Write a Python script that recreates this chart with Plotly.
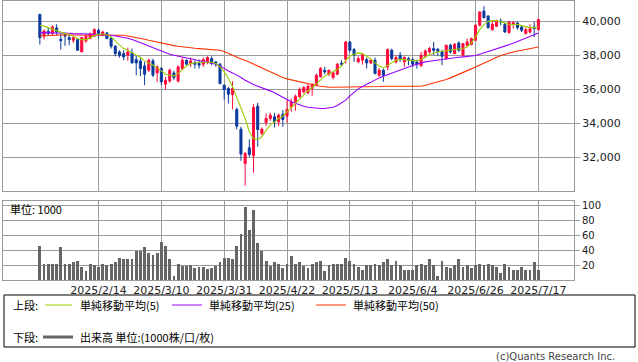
import plotly.graph_objects as go

# ---------------- data ----------------
date_labels = ["2025/2/14", "2025/3/10", "2025/3/31", "2025/4/22",
               "2025/5/13", "2025/6/4", "2025/6/26", "2025/7/17"]

open_ = [40411, 39137, 39411, 39274, 39607, 38941, 39235, 39039, 38882, 38921,
         38195, 38843, 38980, 39117, 39470, 39176, 39313, 39019, 38529, 38195,
         38097, 37999, 38137, 37744, 37666, 37372, 37117, 37666, 36960, 37215,
         36293, 36489, 36960, 36489, 37215, 37705, 37509, 37548, 37509, 37470,
         37607, 37803, 37607, 37470, 36234, 36038, 35685, 34803, 33646, 31626,
         32548, 32077, 34999, 33391, 34038, 34274, 34372, 34077, 34529, 34411,
         34960, 35254, 35548, 35842, 35784, 36038, 36234, 36725, 37117, 36882,
         36685, 36882, 37529, 37764, 38784, 38333, 37607, 37705, 37744, 37548,
         37705, 36823, 37117, 37313, 38294, 37607, 37999, 37607, 37803, 37744,
         37607, 37372, 37940, 38195, 38392, 38352, 38195, 37803, 38588, 38097,
         38725, 37999, 38588, 38627, 38882, 39764, 40607, 40313, 39509, 39705,
         40019, 39823, 39333, 39823, 39902, 39666, 39274, 39372, 39666, 39509]

high = [40411, 39509, 39627, 39764, 39823, 39274, 39333, 39274, 39078, 38960,
        39078, 39215, 39333, 39588, 39568, 39431, 39372, 39078, 38588, 38294,
        38294, 38450, 38392, 37999, 37901, 37607, 37803, 37803, 37411, 37313,
        36725, 37215, 37078, 37411, 37862, 37744, 37862, 37705, 37744, 37862,
        37940, 37940, 37666, 37548, 36293, 36136, 36470, 34921, 33783, 32313,
        33038, 35116, 35195, 33744, 34568, 34607, 34607, 34568, 34764, 35352,
        35450, 35685, 36097, 36176, 36293, 36332, 36921, 37313, 37313, 37156,
        37019, 37548, 37705, 38843, 38823, 38431, 37940, 38137, 37862, 37744,
        37862, 37254, 37215, 38392, 38392, 37999, 38195, 37940, 37901, 37862,
        37744, 38195, 38333, 38490, 38784, 38431, 38333, 38627, 38686, 38725,
        38823, 38725, 38980, 39039, 39823, 40588, 40882, 40353, 40058, 40098,
        40156, 39902, 40019, 39999, 39960, 39764, 39627, 39823, 39960, 40156]

low = [38627, 38921, 39176, 39176, 39176, 38333, 38548, 38588, 38725, 38294,
       38195, 38725, 38941, 39078, 38980, 39117, 38941, 38392, 37940, 37862,
       37705, 37666, 37509, 36823, 36764, 36234, 37019, 36725, 36430, 36234,
       35980, 36372, 36529, 36372, 37117, 37411, 37313, 37215, 37215, 37313,
       37470, 37411, 37313, 36293, 35391, 35155, 34803, 33626, 31783, 30312,
       32018, 31077, 32607, 33293, 33822, 34136, 33744, 33822, 33783, 34019,
       34666, 34725, 35509, 35743, 35705, 35607, 36176, 36685, 36882, 36764,
       36568, 36823, 37372, 37509, 38195, 37607, 37568, 37450, 37215, 37470,
       36882, 36725, 36430, 37117, 37705, 37509, 37607, 37313, 37411, 37313,
       37215, 37352, 37862, 38097, 37999, 37940, 37411, 37744, 38097, 38058,
       38195, 37940, 38490, 38588, 38843, 39705, 40156, 39568, 39431, 39666,
       39764, 39313, 39274, 39568, 39509, 39372, 39215, 39274, 39078, 39470]

close = [39039, 39431, 39274, 39666, 39372, 38862, 39117, 38921, 39039, 38294,
         39039, 39117, 39274, 39509, 39274, 39372, 38980, 38529, 38097, 37999,
         37901, 38195, 37548, 37548, 37215, 36882, 37705, 36823, 37313, 36430,
         36529, 37117, 36685, 37313, 37705, 37470, 37666, 37470, 37411, 37744,
         37862, 37509, 37509, 36332, 35980, 35705, 36038, 33822, 32175, 32214,
         32156, 34921, 33626, 33646, 34274, 34470, 34077, 34470, 34215, 34803,
         35254, 35588, 35980, 36097, 36176, 36293, 36823, 37215, 37019, 37117,
         36960, 37470, 37470, 38784, 38294, 37999, 37803, 38038, 37548, 37705,
         36921, 37117, 36823, 38333, 37803, 37862, 37744, 37862, 37705, 37470,
         37470, 37999, 38254, 38392, 38294, 38235, 37940, 38588, 38195, 38646,
         38294, 38686, 38784, 38980, 39764, 40549, 40215, 39627, 39823, 40019,
         39960, 39372, 39960, 39921, 39627, 39470, 39509, 39568, 39568, 40098]

ma5 = [39764, 39725, 39627, 39529, 39470, 39372, 39274, 39235, 39117, 38980,
       38921, 38921, 39019, 39156, 39235, 39254, 39235, 39078, 38843, 38588,
       38392, 38294, 38156, 37999, 37862, 37666, 37548, 37411, 37254, 37058,
       36882, 36823, 36784, 36921, 37156, 37372, 37509, 37568, 37587, 37587,
       37607, 37587, 37509, 37313, 37019, 36627, 36136, 35548, 34960, 34274,
       33489, 33097, 33038, 33195, 33587, 33881, 34077, 34274, 34411, 34666,
       34862, 35155, 35391, 35646, 35901, 36097, 36293, 36529, 36764, 36921,
       37039, 37156, 37352, 37705, 37940, 38058, 38137, 38097, 37940, 37784,
       37548, 37372, 37254, 37411, 37587, 37705, 37764, 37744, 37705, 37705,
       37666, 37744, 37901, 38038, 38137, 38215, 38254, 38274, 38313, 38333,
       38372, 38392, 38490, 38725, 39078, 39509, 39803, 39980, 40039, 40039,
       39980, 39902, 39823, 39803, 39823, 39745, 39666, 39627, 39627, 39666]

ma25 = [39333, 39333, 39333, 39333, 39313, 39313, 39313, 39294, 39274, 39274,
        39274, 39254, 39254, 39235, 39215, 39215, 39196, 39176, 39137, 39098,
        39058, 38999, 38921, 38843, 38764, 38646, 38548, 38450, 38333, 38215,
        38137, 38058, 37999, 37940, 37901, 37843, 37784, 37725, 37666, 37627,
        37587, 37548, 37470, 37372, 37215, 37078, 36960, 36842, 36685, 36529,
        36391, 36274, 36176, 36097, 36019, 35901, 35784, 35666, 35548, 35391,
        35254, 35156, 35078, 34999, 34940, 34901, 34881, 34862, 34862, 34881,
        34940, 35038, 35176, 35352, 35607, 35842, 36019, 36156, 36293, 36430,
        36568, 36666, 36764, 36862, 36960, 37039, 37137, 37235, 37313, 37392,
        37470, 37548, 37607, 37646, 37686, 37725, 37764, 37803, 37843, 37862,
        37882, 37901, 37921, 37940, 37980, 38058, 38137, 38215, 38294, 38352,
        38431, 38509, 38607, 38705, 38803, 38901, 38999, 39098, 39196, 39313]

ma50 = [39137, 39156, 39156, 39176, 39176, 39196, 39196, 39196, 39215, 39215,
        39215, 39215, 39215, 39215, 39215, 39215, 39215, 39215, 39196, 39196,
        39176, 39137, 39098, 39039, 38999, 38941, 38882, 38823, 38764, 38725,
        38666, 38627, 38568, 38529, 38490, 38450, 38431, 38411, 38392, 38372,
        38352, 38333, 38313, 38294, 38215, 38097, 37980, 37882, 37784, 37705,
        37587, 37470, 37352, 37235, 37117, 36999, 36882, 36784, 36685, 36607,
        36548, 36489, 36411, 36352, 36313, 36254, 36215, 36176, 36136, 36117,
        36117, 36117, 36117, 36136, 36136, 36136, 36156, 36156, 36156, 36156,
        36156, 36156, 36176, 36176, 36176, 36176, 36176, 36176, 36176, 36176,
        36176, 36176, 36234, 36293, 36372, 36430, 36489, 36568, 36666, 36764,
        36882, 36980, 37078, 37196, 37313, 37431, 37548, 37666, 37764, 37862,
        37980, 38058, 38137, 38195, 38254, 38294, 38352, 38392, 38431, 38490]

volume = [46, 22, 22, 21, 22, 45, 22, 21, 24, 26,
          17, 12, 21, 20, 17, 21, 20, 21, 24, 30,
          28, 28, 29, 39, 39, 44, 37, 34, 37, 52,
          46, 29, 5, 22, 19, 19, 20, 16, 17, 17,
          15, 16, 19, 24, 30, 30, 29, 46, 62, 99,
          67, 95, 50, 39, 25, 19, 24, 22, 16, 22,
          32, 22, 24, 19, 16, 22, 24, 25, 12, 20,
          21, 21, 21, 30, 25, 21, 17, 14, 20, 20,
          21, 20, 24, 28, 20, 26, 20, 14, 14, 14,
          20, 21, 20, 28, 20, 6, 25, 18, 16, 20,
          29, 17, 20, 16, 20, 22, 20, 22, 20, 17,
          10, 22, 18, 14, 13, 17, 13, 13, 24, 13]

price_ticks = [32000, 34000, 36000, 38000, 40000]
volume_ticks = [20, 40, 60, 80, 100]

# ---------------- layout helpers ----------------
W, H = 638, 362
ML, MR, MT, MB = 3, 64, 1, 82
PW = W - ML - MR
PH = H - MT - MB


def px(xp):
    return (xp - ML) / PW


def py(yp):
    return (H - MB - yp) / PH


n = len(close)
idx = list(range(n))
first_label_bar = 14
label_step = 15
tick_pos = [first_label_bar + label_step * k for k in range(len(date_labels))]

UP = "#FF0A3C"
DOWN = "#0B3A9E"
GRID = "#9a9a9a"
FONT = "DejaVu Sans, Noto Sans CJK JP, sans-serif"
JFONT = "Noto Sans CJK JP, DejaVu Sans, sans-serif"

fig = go.Figure()

fig.add_trace(go.Candlestick(
    x=idx, open=open_, high=high, low=low, close=close,
    increasing=dict(line=dict(color=UP, width=1), fillcolor=UP),
    decreasing=dict(line=dict(color=DOWN, width=1), fillcolor=DOWN),
    whiskerwidth=0, xaxis="x", yaxis="y", showlegend=False,
))
fig.add_trace(go.Scatter(x=idx, y=ma50, mode="lines", line=dict(color="#FF3300", width=1.1),
                         xaxis="x", yaxis="y", showlegend=False))
fig.add_trace(go.Scatter(x=idx, y=ma25, mode="lines", line=dict(color="#9900FF", width=1.1),
                         xaxis="x", yaxis="y", showlegend=False))
fig.add_trace(go.Scatter(x=idx, y=ma5, mode="lines", line=dict(color="#99CC00", width=1.1),
                         xaxis="x", yaxis="y", showlegend=False))
fig.add_trace(go.Bar(x=idx, y=volume, marker=dict(color="#666666", line=dict(width=0)),
                     width=0.68, xaxis="x2", yaxis="y2", showlegend=False))

xr = [-8.8, n - 1 + 8.5]
axis_common = dict(showgrid=True, gridcolor=GRID, gridwidth=1, zeroline=False,
                   showline=True, mirror=True, linecolor=GRID, linewidth=1)

fig.update_layout(
    width=W, height=H,
    margin=dict(l=ML, r=MR, t=MT, b=MB),
    paper_bgcolor="white", plot_bgcolor="white",
    showlegend=False, bargap=0,
    font=dict(family=FONT, size=11, color="#222"),
    xaxis=dict(domain=[0, 1], anchor="y", range=xr, tickvals=tick_pos,
               showticklabels=False, ticks="", rangeslider=dict(visible=False),
               **axis_common),
    yaxis=dict(domain=[py(190.7), 1], anchor="x", side="right",
               range=[30020, 41195], tickvals=price_ticks, tickformat=",",
               ticks="outside", ticklen=5, tickcolor=GRID,
               tickfont=dict(size=11, family=FONT, color="#222"), **axis_common),
    xaxis2=dict(domain=[0, 1], anchor="y2", range=xr, tickvals=tick_pos,
                ticktext=date_labels, ticks="", tickfont=dict(size=11, family=FONT, color="#222"),
                **axis_common),
    yaxis2=dict(domain=[0, py(201)], anchor="x2", side="right", range=[0, 106.7],
                tickvals=volume_ticks, ticks="outside", ticklen=5, tickcolor=GRID,
                tickfont=dict(size=10, family=FONT, color="#222"), **axis_common),
)

shapes = []
annotations = []

# legend box
shapes.append(dict(type="rect", xref="paper", yref="paper",
                   x0=px(4), x1=px(635), y0=py(347), y1=py(295),
                   line=dict(color="#000", width=1), fillcolor="rgba(0,0,0,0)"))

row1, row2 = 305, 337
legend_items = [
    (45, 72, 78, "単純移動平均(5)", "#99CC00"),
    (172, 202, 207, "単純移動平均(25)", "#9900FF"),
    (316, 346, 351, "単純移動平均(50)", "#FF3300"),
]
annotations.append(dict(text="上段:", x=px(11), y=py(row1), xref="paper", yref="paper",
                        xanchor="left", yanchor="middle", showarrow=False,
                        font=dict(family=JFONT, size=11, color="#000")))
for x0, x1, tx, label, col in legend_items:
    shapes.append(dict(type="line", xref="paper", yref="paper", x0=px(x0), x1=px(x1),
                       y0=py(row1), y1=py(row1), line=dict(color=col, width=1)))
    annotations.append(dict(text=label, x=px(tx), y=py(row1), xref="paper", yref="paper",
                            xanchor="left", yanchor="middle", showarrow=False,
                            font=dict(family=JFONT, size=11, color="#000")))

annotations.append(dict(text="下段:", x=px(11), y=py(row2), xref="paper", yref="paper",
                        xanchor="left", yanchor="middle", showarrow=False,
                        font=dict(family=JFONT, size=11, color="#000")))
shapes.append(dict(type="line", xref="paper", yref="paper", x0=px(43), x1=px(73),
                   y0=py(row2), y1=py(row2), line=dict(color="#666666", width=3)))
annotations.append(dict(text="出来高 単位:(1000株/口/枚)", x=px(78), y=py(row2),
                        xref="paper", yref="paper", xanchor="left", yanchor="middle",
                        showarrow=False, font=dict(family=JFONT, size=11, color="#000")))

annotations.append(dict(text="単位: 1000", x=px(8), y=py(209), xref="paper", yref="paper",
                        xanchor="left", yanchor="middle", showarrow=False,
                        font=dict(family=JFONT, size=11, color="#000")))

annotations.append(dict(text="(c)Quants Research Inc.", x=px(617), y=py(356),
                        xref="paper", yref="paper", xanchor="right", yanchor="middle",
                        showarrow=False, font=dict(family=FONT, size=10, color="#444")))

fig.update_layout(shapes=shapes, annotations=annotations)

fig.write_html("out.html",
               config={"displayModeBar": False},
               post_script="document.body.style.margin='0';document.body.style.padding='0';"
                           "document.body.style.overflow='hidden';")
